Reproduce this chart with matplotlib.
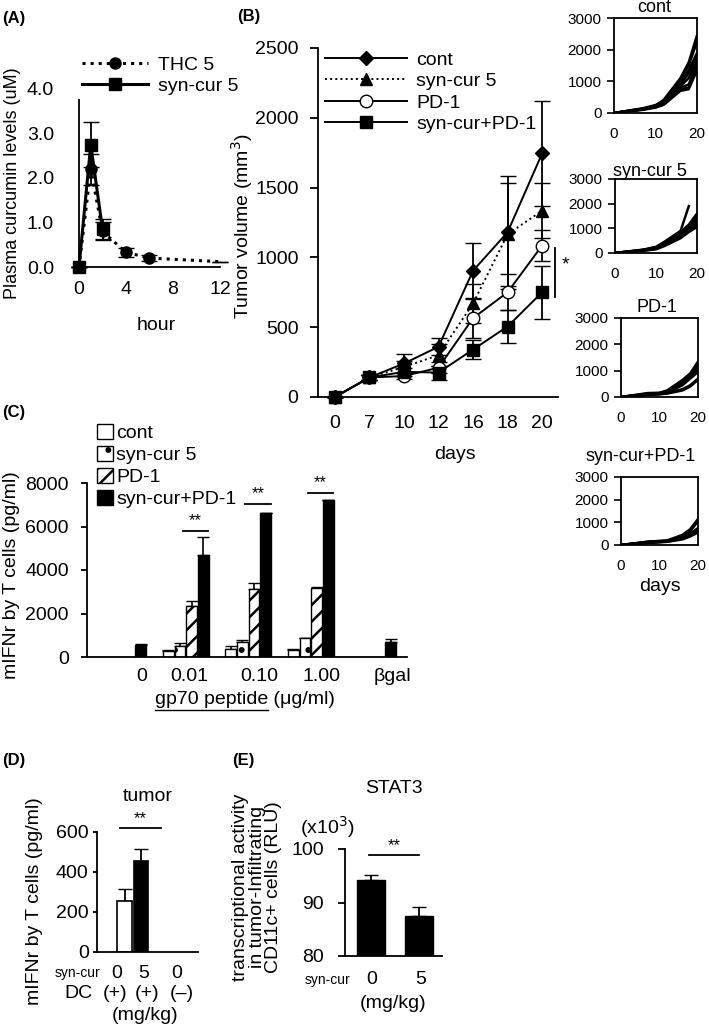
import numpy as np
import matplotlib
matplotlib.use('Agg')
import matplotlib.pyplot as plt
from matplotlib.patches import Patch
from matplotlib.lines import Line2D

plt.rcParams['font.family'] = ['Liberation Sans', 'DejaVu Sans']
plt.rcParams['hatch.linewidth'] = 1.8
plt.rcParams['axes.linewidth'] = 1.3

W, H = 709, 1030
nan = np.nan

# (A) plasma curcumin
thc_hours = [0, 1, 2, 4, 6, 12]
thc_level = [0, 2.2, 0.8, 0.33, 0.2, 0.12]
thc_err = [0, 0.35, 0.2, 0.1, 0.06, 0]
syn_hours = [0, 1, 2]
syn_level = [0, 2.75, 0.85]
syn_err = [0, 0.5, 0.22]

# (B) tumour volume, group means
days = ['0', '7', '10', '12', '16', '18', '20']
days_num = [0, 7, 10, 12, 16, 18, 20]
groups = ['cont', 'syn-cur 5', 'PD-1', 'syn-cur+PD-1']
vol_cont = [0, 140, 240, 360, 905, 1180, 1745]
err_cont = [0, 20, 65, 60, 195, 405, 375]
vol_syn = [0, 140, 215, 300, 670, 1165, 1335]
err_syn = [0, 20, 40, 80, 140, 370, 195]
vol_pd1 = [0, 140, 150, 210, 565, 750, 1085]
err_pd1 = [0, 20, 20, 40, 140, 130, 110]
vol_combo = [0, 140, 180, 175, 340, 505, 750]
err_combo = [0, 20, 30, 50, 70, 120, 190]

# (B) individual mice
mice_cont = [[0, 130, 230, 420, 1100, 1600, 2450],
             [0, 150, 250, 380, 1050, 1500, 2250],
             [0, 120, 200, 350, 950, 1350, 1900],
             [0, 140, 220, 330, 900, 1250, 1800],
             [0, 110, 210, 300, 850, 1100, 1650],
             [0, 130, 190, 320, 800, 900, 1550],
             [0, 120, 180, 280, 750, 800, 1450],
             [0, 100, 170, 260, 700, 750, 1350]]
mice_syn = [[0, 140, 250, 450, 900, 1900, nan],
            [0, 130, 230, 400, 850, 1150, 1600],
            [0, 120, 220, 380, 800, 1050, 1450],
            [0, 110, 200, 350, 750, 1000, 1350],
            [0, 100, 180, 320, 700, 950, 1250],
            [0, 120, 170, 300, 650, 900, 1150],
            [0, 90, 150, 280, 600, 850, 1050]]
mice_pd1 = [[0, 150, 160, 250, 650, 900, 1350],
            [0, 130, 150, 220, 600, 850, 1200],
            [0, 120, 140, 200, 550, 800, 1100],
            [0, 110, 130, 180, 500, 750, 1000],
            [0, 100, 120, 160, 450, 700, 950],
            [0, 90, 110, 150, 300, 450, 700],
            [0, 80, 100, 130, 250, 400, 650]]
mice_combo = [[0, 150, 180, 200, 450, 700, 1150],
              [0, 140, 170, 190, 400, 600, 1050],
              [0, 130, 160, 180, 350, 500, 750],
              [0, 120, 150, 170, 320, 450, 700],
              [0, 110, 140, 160, 300, 420, 650],
              [0, 100, 130, 150, 280, 400, 600],
              [0, 90, 120, 140, 250, 380, 550]]

# (C) IFN-g by T cells
conc_labels = ['0', '0.01', '0.10', '1.00', 'βgal']
ifn_cont = [0, 280, 390, 330, 0]
ifn_cont_err = [0, 20, 100, 40, 0]
ifn_syn = [0, 500, 690, 870, 0]
ifn_syn_err = [0, 140, 110, 20, 0]
ifn_pd1 = [0, 2340, 3120, 3180, 0]
ifn_pd1_err = [0, 230, 260, 60, 0]
ifn_combo = [560, 4690, 6620, 7200, 690]
ifn_combo_err = [30, 810, 20, 30, 120]
sig_groups = [1, 2, 3]
sig_y = [5800, 7030, 7540]

# (D) tumor
d_syncur = ['0', '5', '0']
d_dc = ['(+)', '(+)', '(–)']
d_vals = [255, 455, nan]
d_err = [58, 60, 0]

# (E) STAT3
e_syncur = ['0', '5']
e_vals = [94.2, 87.4]
e_err = [0.9, 1.7]

fig = plt.figure(figsize=(W / 100, H / 100), dpi=100)


def add_ax(l, t, r, b):
    return fig.add_axes([l / W, 1 - b / H, (r - l) / W, (b - t) / H])


def ftext(x, y, s, **kw):
    kw.setdefault('va', 'center')
    return fig.text(x / W, 1 - y / H, s, **kw)


def open_axes(ax):
    ax.spines['top'].set_visible(False)
    ax.spines['right'].set_visible(False)


# ---------- (A)
ax = add_ax(79, 89, 220, 267)
open_axes(ax)
ax.errorbar(thc_hours, thc_level, yerr=thc_err, color='k', ls=':', lw=2.2,
            marker='o', ms=8, markevery=[0, 1, 2, 3, 4], capsize=6,
            elinewidth=1.3, clip_on=False, label='THC 5', zorder=3)
ax.errorbar(syn_hours, syn_level, yerr=syn_err, color='k', ls='-', lw=2.2,
            marker='s', ms=8, capsize=6, elinewidth=1.3, clip_on=False,
            label='syn-cur 5', zorder=4)
ax.set_xlim(0, 12)
ax.set_ylim(0, 4)
ax.spines['left'].set_bounds(0, 3.75)
ax.set_xticks([0, 4, 8, 12])
ax.set_yticks([0, 1, 2, 3, 4])
ax.set_yticklabels(['0.0', '1.0', '2.0', '3.0', '4.0'])
ax.tick_params(length=0, labelsize=14)
ax.tick_params(axis='y', pad=18)
ax.tick_params(axis='x', pad=10)
ax.set_xlabel('hour', fontsize=14, labelpad=0)
ax.xaxis.set_label_coords(0.55, -0.28)
ax.set_ylabel('Plasma curcumin levels (uM)', fontsize=13)
ax.yaxis.set_label_coords(-0.41, 0.47)
ax.legend(handles=[Line2D([], [], color='k', ls=':', lw=2.2, marker='o', ms=8),
                   Line2D([], [], color='k', ls='-', lw=2.2, marker='s', ms=8)],
          labels=['THC 5', 'syn-cur 5'], loc='upper left',
          bbox_to_anchor=(82 / W, 1 - 56 / H), bbox_transform=fig.transFigure,
          frameon=False, fontsize=14, borderpad=0, borderaxespad=0,
          handlelength=3.4, handletextpad=0.5, labelspacing=0.2)

# ---------- (B) main
ax = add_ax(318, 48, 558, 397)
open_axes(ax)
xb = np.arange(len(days))
styles = [(vol_cont, err_cont, 'D', 'k', '-', 7),
          (vol_syn, err_syn, '^', 'k', ':', 9),
          (vol_pd1, err_pd1, 'o', 'white', '-', 9),
          (vol_combo, err_combo, 's', 'k', '-', 8)]
handles = []
for (v, e, m, fc, ls, ms), g in zip(styles, groups):
    ax.errorbar(xb, v, yerr=e, color='k', ls=ls, lw=1.4, marker=m, ms=ms,
                mfc=fc, mec='k', capsize=6, elinewidth=1.3, clip_on=False)
    handles.append(Line2D([], [], color='k', ls=ls, lw=1.4, marker=m,
                          ms=ms, mfc=fc, mec='k'))
ax.set_xlim(-0.49, 6.46)
ax.set_ylim(0, 2500)
ax.set_xticks(xb)
ax.set_xticklabels(days)
ax.set_yticks([0, 500, 1000, 1500, 2000, 2500])
ax.tick_params(axis='x', length=0, labelsize=14, pad=13)
ax.tick_params(axis='y', length=6, width=1.3, labelsize=14, pad=8)
ax.set_xlabel('days', fontsize=14)
ax.xaxis.set_label_coords(0.57, -0.14)
ax.set_ylabel('Tumor volume (mm$^3$)', fontsize=14)
ax.yaxis.set_label_coords(-0.262, 0.49)
ax.legend(handles=handles, labels=groups, loc='upper left',
          bbox_to_anchor=(325 / W, 1 - 51 / H), bbox_transform=fig.transFigure,
          frameon=False, fontsize=14, borderpad=0, borderaxespad=0,
          handlelength=4.2, handletextpad=0.5, labelspacing=0.2)
ax.plot([6.38, 6.38], [714, 1064], color='k', lw=1.3, clip_on=False)
ax.text(6.67, 943, '*', fontsize=14, ha='center', va='center', clip_on=False)

# ---------- (B) individual mice
small = [(mice_cont, 'cont', (614, 18, 697, 113), 654, 8),
         (mice_syn, 'syn-cur 5', (615, 179, 697, 253), 650, 171),
         (mice_pd1, 'PD-1', (621, 318, 698, 397), 657, 307),
         (mice_combo, 'syn-cur+PD-1', (621, 477, 698, 545), 641, 456)]
for mice, title, box, tx, ty in small:
    ax = add_ax(*box)
    for m in mice:
        ax.plot(days_num, m, color='k', lw=1.8)
    ax.set_xlim(0, 20)
    ax.set_ylim(0, 3000)
    ax.set_xticks([0, 10, 20])
    ax.set_yticks([0, 1000, 2000, 3000])
    ax.tick_params(axis='x', length=0, labelsize=11, pad=10)
    ax.tick_params(axis='y', length=5, width=1.2, labelsize=11, pad=4)
    ftext(tx, ty, title, ha='center', fontsize=13)
ax.set_xlabel('days', fontsize=14, labelpad=4)

# ---------- (C)
ax = add_ax(87, 483, 407, 657)
open_axes(ax)
xc = np.arange(len(conc_labels))
bw = 0.187
bars = [(ifn_cont, ifn_cont_err, 'white', ''),
        (ifn_syn, ifn_syn_err, 'white', '.'),
        (ifn_pd1, ifn_pd1_err, 'white', '//'),
        (ifn_combo, ifn_combo_err, 'black', '')]
for i, (v, e, fc, hatch) in enumerate(bars):
    xs = xc + (i - 1.5) * bw
    vals = np.array(v, dtype=float)
    keep = vals > 0
    ax.bar(xs[keep], vals[keep], width=0.17, color=fc, edgecolor='k',
           hatch=hatch, lw=1.0, zorder=2)
    ax.errorbar(xs[keep], vals[keep],
                yerr=[np.zeros(keep.sum()), np.array(e)[keep]],
                fmt='none', ecolor='k', capsize=4, elinewidth=1.2, zorder=1)
for g, y in zip(sig_groups, sig_y):
    ax.plot([g - 0.05, g + 0.36], [y, y], color='k', lw=1.3)
    ax.text(g + 0.155, y + 120, '**', ha='center', va='bottom', fontsize=12)
ax.set_xlim(-0.58, 4.54)
ax.set_ylim(0, 8000)
ax.set_xticks([0.3, 1.06, 2.18, 3.18, 4.3])
ax.set_xticklabels(conc_labels)
ax.set_yticks([0, 2000, 4000, 6000, 8000])
ax.tick_params(axis='x', length=0, labelsize=14, pad=8)
ax.tick_params(axis='y', length=4, width=1.3, labelsize=14, pad=9)
ax.set_ylabel('mIFNr by T cells (pg/ml)', fontsize=14)
ax.yaxis.set_label_coords(-0.208, 0.47)
ax.legend(handles=[Patch(fc='white', ec='k'),
                   Patch(fc='white', ec='k', hatch='.'),
                   Patch(fc='white', ec='k', hatch='//'),
                   Patch(fc='black', ec='k')],
          labels=groups, loc='upper left',
          bbox_to_anchor=(97 / W, 1 - 424 / H), bbox_transform=fig.transFigure,
          frameon=False, fontsize=14, borderpad=0, borderaxespad=0,
          handlelength=0.8, handleheight=0.8, handletextpad=0.2,
          labelspacing=0.2)
t1 = ftext(268, 700, 'gp70 peptide', ha='right', fontsize=14)
ftext(268, 700, ' (μg/ml)', ha='left', fontsize=14)

# ---------- (D)
ax = add_ax(97, 832, 198, 952)
open_axes(ax)
xd = [0, 1, 3.2]
ax.bar(xd[:2], d_vals[:2], width=0.88, color=['white', 'black'],
       edgecolor='k', lw=1.2, zorder=2)
ax.errorbar(xd[:2], d_vals[:2], yerr=[[0, 0], d_err[:2]], fmt='none',
            ecolor='k', capsize=5, elinewidth=1.3, zorder=1)
ax.plot([-0.25, 2.2], [620, 620], color='k', lw=1.3, clip_on=False)
ax.text(0.97, 630, '**', ha='center', va='bottom', fontsize=12)
ax.set_xlim(-1.67, 4.45)
ax.set_ylim(0, 600)
ax.set_xticks([])
ax.set_yticks([0, 200, 400, 600])
ax.tick_params(axis='y', length=3, width=1.3, labelsize=14, pad=3)
ax.set_ylabel('mIFNr by T cells (pg/ml)', fontsize=14)
ax.yaxis.set_label_coords(-0.53, 0.42)
ax.set_title('tumor', fontsize=14, pad=22)
for lab, px in zip(d_syncur, [117, 144, 177]):
    ftext(px, 973, lab, ha='center', fontsize=14)
for lab, px in zip(d_dc, [115, 147, 182]):
    ftext(px, 993, lab, ha='center', fontsize=14)
ftext(100, 973, 'syn-cur', ha='right', fontsize=10)
ftext(92, 993, 'DC', ha='right', fontsize=14)
ftext(145, 1016, '(mg/kg)', ha='center', fontsize=14)

# ---------- (E)
ax = add_ax(345, 849, 442, 956)
open_axes(ax)
xe = np.arange(len(e_vals))
ax.bar(xe, e_vals, width=0.6, color='black', edgecolor='k', zorder=2)
ax.errorbar(xe, e_vals, yerr=[[0, 0], e_err], fmt='none', ecolor='k',
            capsize=5, elinewidth=1.3, zorder=1)
ax.plot([-0.04, 1.0], [98.9, 98.9], color='k', lw=1.3)
ax.text(0.48, 99.2, '**', ha='center', va='bottom', fontsize=12)
ax.set_xlim(-0.54, 1.48)
ax.set_ylim(80, 100)
ax.set_xticks([])
ax.set_yticks([80, 90, 100])
ax.tick_params(axis='y', length=5, width=1.3, labelsize=14, pad=10)
ax.set_title('STAT3', fontsize=14, pad=40)
ftext(300, 827, '(x10$^3$)', ha='left', fontsize=14)
ftext(350, 980, 'syn-cur', ha='right', fontsize=10)
for lab, px in zip(e_syncur, [372, 421]):
    ftext(px, 980, lab, ha='center', fontsize=14)
ftext(393, 1003, '(mg/kg)', ha='center', fontsize=14)
ftext(257, 887, 'transcriptional activity\nin tumor-Infiltrating\nCD11c+ cells (RLU)',
      ha='center', rotation=90, fontsize=14, linespacing=0.95, multialignment='center')

# panel letters
for lab, px, py in [('(A)', 2, 18), ('(B)', 237, 17), ('(C)', 2, 412),
                    ('(D)', 2, 760), ('(E)', 232, 760)]:
    ftext(px, py, lab, ha='left', fontsize=12, fontweight='bold')

# underline for "gp70 peptide"
fig.canvas.draw()
bb = t1.get_window_extent()
fig.add_artist(Line2D([bb.x0 / W, bb.x1 / W], [(bb.y0 - 1) / H, (bb.y0 - 1) / H],
                      color='k', lw=1.0, transform=fig.transFigure))

fig.savefig('out.png', dpi=100)
